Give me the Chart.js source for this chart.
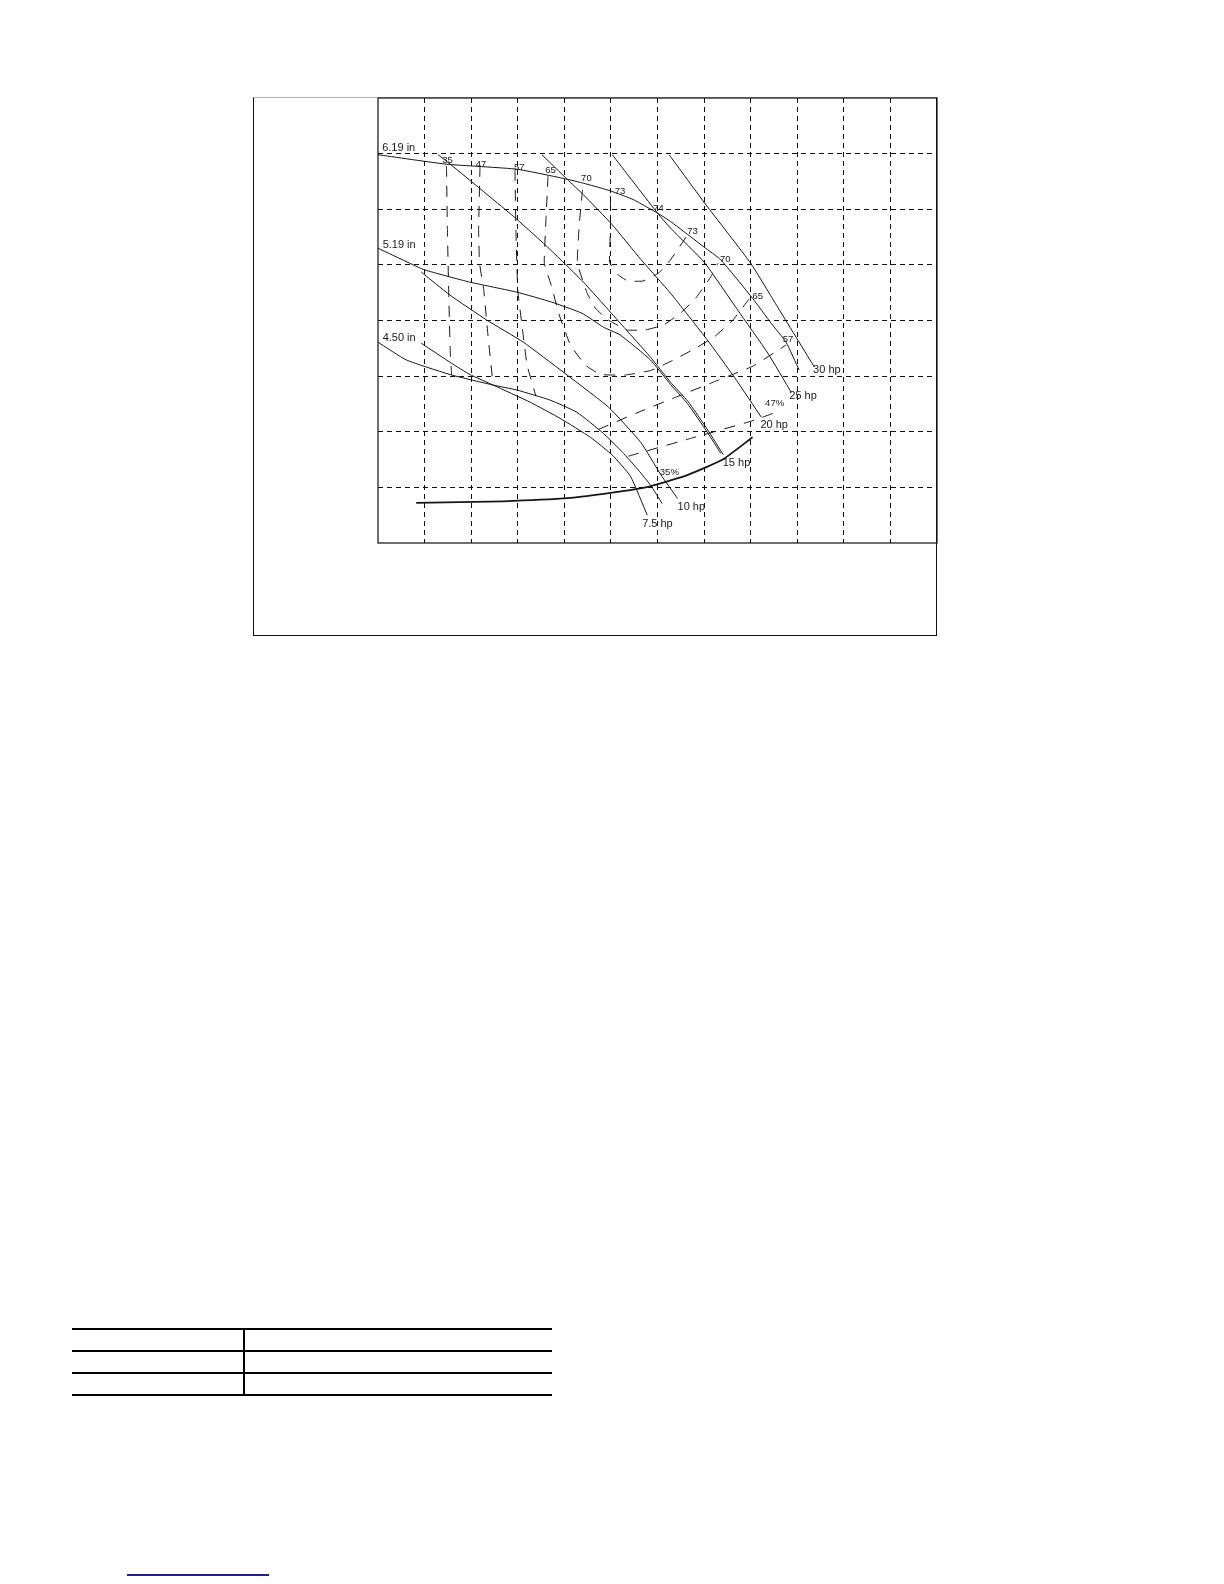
<!DOCTYPE html>
<html>
<head>
<meta charset="utf-8">
<script src="https://cdn.jsdelivr.net/npm/chart.js@4.4.1/dist/chart.umd.min.js"></script>
<style>
html,body{margin:0;padding:0;background:#fff;}
#page{position:relative;width:1224px;height:1584px;background:#fff;overflow:hidden;}
#frame{position:absolute;left:253px;top:97px;width:684px;height:539px;box-sizing:border-box;border-left:1px solid #111;border-right:1px solid #111;border-bottom:1px solid #111;border-top:1px solid #b4b4b4;}
#chartWrap{position:absolute;left:366px;top:86px;width:583px;height:469px;}
.hl{position:absolute;left:72px;width:480px;height:2px;background:#000;}
.vl{position:absolute;left:243px;top:1329px;width:2px;height:67px;background:#000;}
#link{position:absolute;left:127px;top:1574px;width:142px;height:2px;background:#1f1f8f;}
</style>
</head>
<body>
<div id="page">
  <div id="frame"></div>
  <div id="chartWrap"><canvas id="c" width="583" height="469"></canvas></div>
  <div class="hl" style="top:1328px"></div>
  <div class="hl" style="top:1350px"></div>
  <div class="hl" style="top:1372px"></div>
  <div class="hl" style="top:1394px"></div>
  <div class="vl"></div>
  <div id="link"></div>
</div>
<script>
// Axis extents in grid divisions (no tick labels are printed on the chart)
const xTicks = [0,1,2,3,4,5,6,7,8,9,10,11,12];
const yTicks = [0,1,2,3,4,5,6,7,8];

// Impeller diameter curves
const imp619X = [0, 1.47, 2.98, 4.06, 4.49, 4.99, 5.49, 6.00, 6.28, 7.00, 7.36, 8.04, 8.44, 8.76, 9.04];
const imp619Y = [6.98, 6.81, 6.72, 6.54, 6.45, 6.33, 6.17, 5.93, 5.78, 5.32, 5.09, 4.40, 3.95, 3.61, 3.11];
const imp519X = [0, 0.68, 1.00, 1.97, 2.98, 3.73, 4.38, 4.84, 5.20, 5.85, 6.28, 6.64, 7.07, 7.36];
const imp519Y = [5.30, 5.03, 4.91, 4.69, 4.51, 4.33, 4.13, 3.88, 3.74, 3.29, 2.85, 2.51, 1.99, 1.61];
const imp450X = [0, 0.61, 1.58, 2.47, 2.98, 3.69, 4.27, 4.84, 5.25, 5.59, 5.85, 6.10];
const imp450Y = [3.61, 3.29, 3.02, 2.84, 2.75, 2.57, 2.35, 1.97, 1.63, 1.31, 1.04, 0.71];

// Horsepower lines
const hp30X = [6.25, 7.04, 8.00, 8.58, 9.37];
const hp30Y = [6.98, 6.08, 5.03, 4.24, 3.16];
const hp25X = [5.03, 6.00, 6.28, 7.00, 7.72, 8.37, 8.87];
const hp25Y = [6.98, 5.93, 5.66, 5.05, 4.19, 3.41, 2.71];
const hp20X = [3.52, 4.06, 4.41, 5.03, 5.64, 6.28, 7.07, 7.65, 8.23];
const hp20Y = [6.98, 6.54, 6.26, 5.72, 5.10, 4.49, 3.65, 2.98, 2.26];
const hp15X = [1.29, 1.61, 2.91, 3.55, 4.00, 4.41, 4.99, 5.85, 6.28, 6.65, 7.08, 7.41];
const hp15Y = [6.98, 6.77, 5.87, 5.39, 5.03, 4.69, 4.15, 3.34, 2.89, 2.55, 2.03, 1.59];
const hp10X = [0.93, 1.54, 2.33, 3.12, 3.98, 4.95, 5.64, 6.07, 6.43];
const hp10Y = [4.87, 4.46, 4.01, 3.61, 3.07, 2.44, 1.81, 1.23, 0.80];
const hp75X = [0.93, 1.58, 1.97, 2.47, 3.27, 3.91, 4.56, 5.03, 5.42, 5.78];
const hp75Y = [3.59, 3.23, 3.03, 2.84, 2.53, 2.24, 1.90, 1.58, 1.20, 0.50];

// NPSH curve
const npshX = [0.82, 2.69, 4.13, 4.99, 5.85, 6.64, 7.40, 8.04];
const npshY = [0.72, 0.75, 0.81, 0.90, 1.02, 1.22, 1.50, 1.90];

// Efficiency contours (dashed)
const eff35X = [1.47, 1.49, 1.52, 1.55, 1.58];
const eff35Y = [6.78, 5.63, 4.42, 3.46, 3.02];
const eff47X = [2.19, 2.16, 2.18, 2.27, 2.36, 2.47];
const eff47Y = [6.78, 5.63, 5.03, 4.55, 3.74, 2.85];
const eff57X = [2.94, 2.96, 3.00, 3.09, 3.20, 3.39];
const eff57Y = [6.71, 5.63, 4.55, 3.92, 3.20, 2.64];
const eff65X = [3.65, 3.61, 3.57, 3.72, 3.89, 4.13, 4.45, 4.77, 5.31, 5.85, 6.32, 6.75, 7.21, 7.62, 7.96];
const eff65Y = [6.60, 5.89, 5.03, 4.63, 4.10, 3.56, 3.20, 3.03, 3.02, 3.10, 3.28, 3.47, 3.70, 4.01, 4.38];
const eff70X = [4.39, 4.32, 4.28, 4.49, 4.67, 4.92, 5.35, 5.74, 6.13, 6.49, 6.82, 7.14, 7.30];
const eff70Y = [6.35, 5.72, 5.03, 4.49, 4.22, 4.02, 3.83, 3.83, 3.92, 4.13, 4.40, 4.78, 5.03];
const eff73X = [4.99, 4.99, 4.97, 5.14, 5.36, 5.69, 6.02, 6.28, 6.63];
const eff73Y = [6.24, 5.63, 5.05, 4.83, 4.71, 4.71, 4.85, 5.09, 5.52];
const eff57RX = [4.73, 5.53, 6.39, 7.25, 8.05, 8.76];
const eff57RY = [2.04, 2.33, 2.62, 2.91, 3.18, 3.56];
const eff47RX = [5.37, 6.71, 8.01, 8.48];
const eff47RY = [1.56, 1.88, 2.19, 2.33];

// Labels
const effLabels = ['35','47','57','65','70','73','74','73','70','65','57','47%','35%'];
const effLabelX = [1.38, 2.10, 2.92, 3.59, 4.36, 5.08, 5.91, 6.64, 7.34, 8.04, 8.69, 8.31, 6.05];
const effLabelY = [6.87, 6.81, 6.75, 6.69, 6.56, 6.33, 6.02, 5.60, 5.09, 4.44, 3.66, 2.51, 1.27];
const curveLabels = ['6.19 in','5.19 in','4.50 in','30 hp','25 hp','20 hp','15 hp','10 hp','7.5 hp'];
const curveLabelX = [0.09, 0.10, 0.10, 9.34, 8.83, 8.21, 7.40, 6.43, 5.67];
const curveLabelY = [7.11, 5.36, 3.69, 3.11, 2.64, 2.13, 1.43, 0.64, 0.35];

function pts(xs, ys){ return xs.map((x,i)=>({x:x, y:ys[i]})); }
function solid(xs, ys, w){
  return {data:pts(xs,ys), showLine:true, borderColor:'#161616', borderWidth:w||1,
          pointRadius:0, tension:0.15, fill:false};
}
function dashed(xs, ys){
  const d = solid(xs, ys, 1); d.borderDash = [11,9]; d.tension = 0.1; return d;
}

const datasets = [
  solid(imp619X, imp619Y), solid(imp519X, imp519Y), solid(imp450X, imp450Y),
  solid(hp30X, hp30Y), solid(hp25X, hp25Y), solid(hp20X, hp20Y),
  solid(hp15X, hp15Y), solid(hp10X, hp10Y), solid(hp75X, hp75Y),
  solid(npshX, npshY, 1.8),
  dashed(eff35X, eff35Y), dashed(eff47X, eff47Y), dashed(eff57X, eff57Y),
  dashed(eff65X, eff65Y), dashed(eff70X, eff70Y), dashed(eff73X, eff73Y),
  dashed(eff57RX, eff57RY), dashed(eff47RX, eff47RY)
];

const xMax = xTicks[xTicks.length-1], yMax = yTicks[yTicks.length-1];
const edge = (max) => (ctx) => (ctx.tick && (ctx.tick.value === 0 || ctx.tick.value === max)) ? 'rgba(0,0,0,0)' : '#111';

const overlay = {
  id: 'overlay',
  afterDatasetsDraw(chart){
    const {ctx, chartArea:a, scales:{x, y}} = chart;
    ctx.save();
    ctx.strokeStyle = '#111'; ctx.lineWidth = 1.2; ctx.setLineDash([]);
    ctx.strokeRect(a.left, a.top, a.right - a.left, a.bottom - a.top);
    ctx.fillStyle = '#1a1a1a';
    ctx.textAlign = 'left'; ctx.textBaseline = 'middle';
    ctx.font = '11px "Liberation Sans", Arial, sans-serif';
    curveLabels.forEach((t,i)=>{
      ctx.fillText(t, x.getPixelForValue(curveLabelX[i]), y.getPixelForValue(curveLabelY[i]));
    });
    ctx.font = '9.5px "Liberation Sans", Arial, sans-serif';
    effLabels.forEach((t,i)=>{
      ctx.fillText(t, x.getPixelForValue(effLabelX[i]), y.getPixelForValue(effLabelY[i]));
    });
    ctx.restore();
  }
};

new Chart(document.getElementById('c'), {
  type: 'scatter',
  data: { datasets: datasets },
  options: {
    responsive: false,
    animation: false,
    events: [],
    layout: { padding: 12 },
    plugins: { legend:{display:false}, tooltip:{enabled:false}, title:{display:false} },
    scales: {
      x: { type:'linear', min:xTicks[0], max:xMax,
           ticks:{display:false, stepSize:1},
           grid:{drawTicks:false, color:edge(xMax), lineWidth:1},
           border:{display:false, dash:[5,4]} },
      y: { type:'linear', min:yTicks[0], max:yMax,
           ticks:{display:false, stepSize:1},
           grid:{drawTicks:false, color:edge(yMax), lineWidth:1},
           border:{display:false, dash:[5,4]} }
    }
  },
  plugins: [overlay]
});
</script>
</body>
</html>
